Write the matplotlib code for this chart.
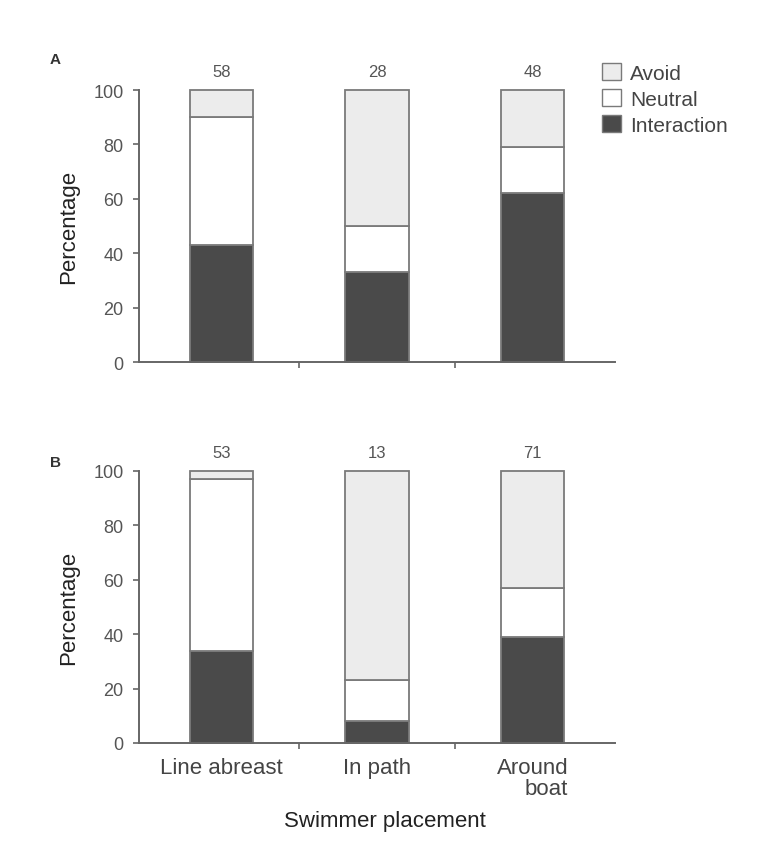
import matplotlib.pyplot as plt
import matplotlib.patches as mpatches

plt.rcParams['font.family'] = ['Liberation Sans', 'DejaVu Sans']

categories = ['Line abreast', 'In path', 'Around\nboat']

# panel A (percent)
a_interaction = [43, 33, 62]
a_neutral = [47, 17, 17]
a_avoid = [10, 50, 21]
a_n = [58, 28, 48]

# panel B (percent)
b_interaction = [34, 8, 39]
b_neutral = [63, 15, 18]
b_avoid = [3, 77, 43]
b_n = [53, 13, 71]

c_inter = '#4a4a4a'
c_neutral = '#ffffff'
c_avoid = '#ececec'
edge = '#7a7a7a'
txt = '#555555'

fig = plt.figure(figsize=(7.66, 8.45), dpi=100)
axA = fig.add_axes([139/766, 1-363/845, (615-139)/766, (363-91)/845])
axB = fig.add_axes([139/766, 1-744/845, (615-139)/766, (744-472)/845])


def draw(ax, inter, neut, avoid, counts, show_labels):
    x = range(len(inter))
    w = 0.41
    bot2 = [i + n for i, n in zip(inter, neut)]
    ax.bar(x, inter, w, color=c_inter, edgecolor=edge, linewidth=1.3, clip_on=False)
    ax.bar(x, neut, w, bottom=inter, color=c_neutral, edgecolor=edge, linewidth=1.3, clip_on=False)
    ax.bar(x, avoid, w, bottom=bot2, color=c_avoid, edgecolor=edge, linewidth=1.3, clip_on=False)
    for xi, c in zip(x, counts):
        ax.text(xi, 104, str(c), ha='center', va='bottom', fontsize=12, color=txt)
    ax.set_xlim(-0.53, 2.53)
    ax.set_ylim(0, 100)
    ax.set_yticks([0, 20, 40, 60, 80, 100])
    ax.set_xticks([0.5, 1.5])
    ax.set_xticklabels([])
    ax.tick_params(axis='y', labelsize=13, colors='#666666', labelcolor=txt, length=4,
                   width=1.2, pad=7)
    ax.tick_params(axis='x', length=4, width=1.2, colors='#666666')
    for s in ['top', 'right']:
        ax.spines[s].set_visible(False)
    for s in ['left', 'bottom']:
        ax.spines[s].set_color('#666666')
        ax.spines[s].set_linewidth(1.4)
    ax.set_ylabel('Percentage', fontsize=16, color='#222222', labelpad=10)
    if show_labels:
        for xi, lab in zip(x, categories):
            ax.text(xi, -5, lab, ha='center', va='top', fontsize=16, color='#444444',
                    linespacing=1.0, multialignment='right')


draw(axA, a_interaction, a_neutral, a_avoid, a_n, False)
draw(axB, b_interaction, b_neutral, b_avoid, b_n, True)

fig.text(50/766, 1-60/845, 'A', fontsize=11, fontweight='bold', color='#333333', va='center')
fig.text(50/766, 1-463/845, 'B', fontsize=11, fontweight='bold', color='#333333', va='center')

fig.text(385/766, 1-822/845, 'Swimmer placement', fontsize=16, color='#222222',
         ha='center', va='center')

handles = [mpatches.Patch(facecolor=c_avoid, edgecolor=edge, label='Avoid'),
           mpatches.Patch(facecolor=c_neutral, edgecolor=edge, label='Neutral'),
           mpatches.Patch(facecolor=c_inter, edgecolor=edge, label='Interaction')]
fig.legend(handles=handles, loc='upper left', bbox_to_anchor=(602/766, 1-64/845),
           frameon=False, fontsize=15, handlelength=0.9, handleheight=0.9,
           handletextpad=0.45, labelspacing=0.3, borderaxespad=0, borderpad=0,
           labelcolor='#444444')

fig.savefig('out.png', dpi=100, facecolor='white')
